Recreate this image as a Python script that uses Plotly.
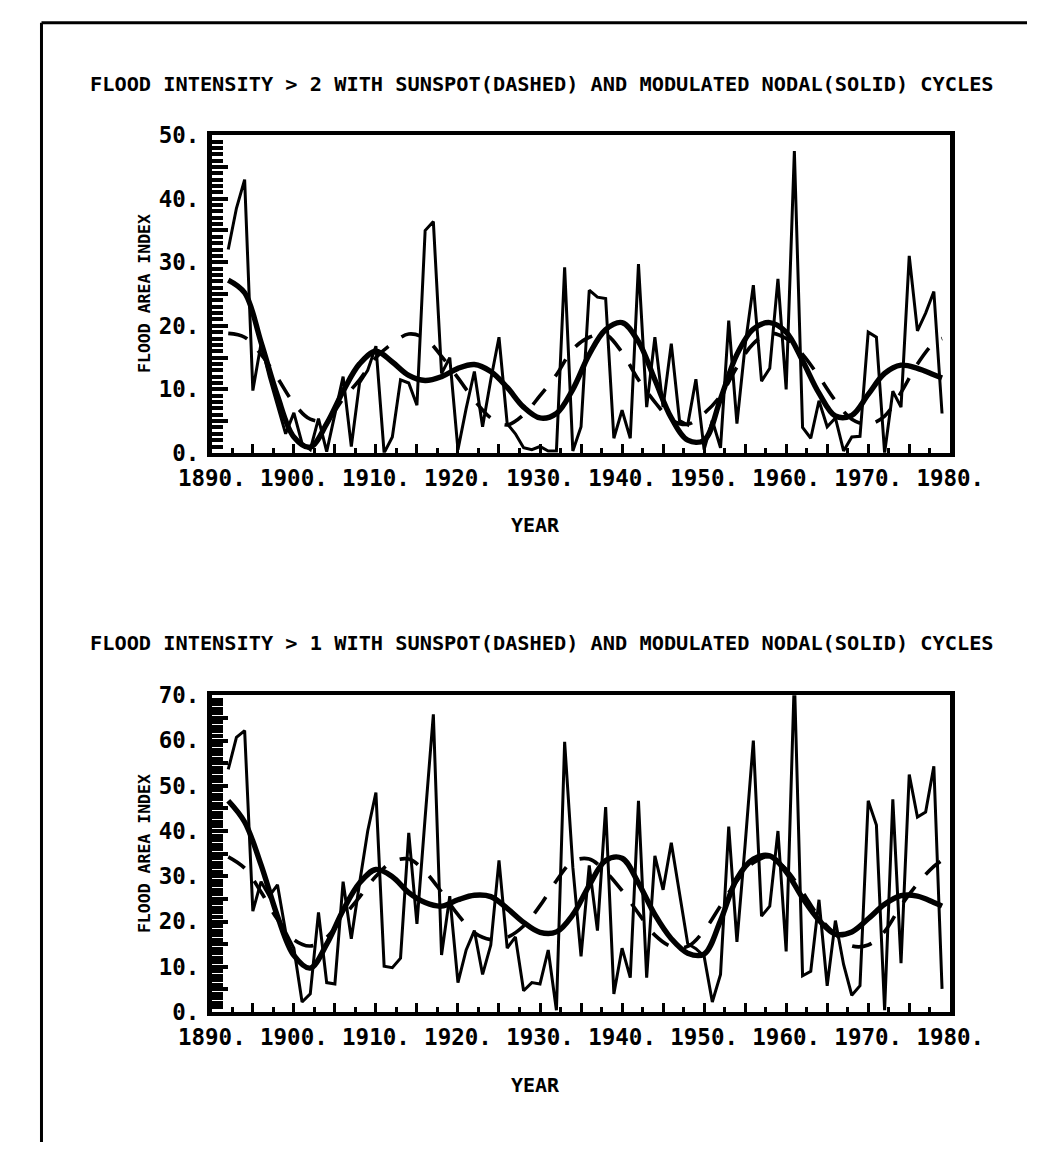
import plotly.graph_objects as go

# ---------------- data ----------------
years = list(range(1892, 1980))

flood_gt2 = [32, 38.5, 43, 9.8, 17.2, 12, 7.5, 3, 6.3, 1.5,
             0.5, 5.4, 0.2, 6, 12, 1, 11, 13, 16.8, 0,
             2.5, 11.5, 11, 7.5, 35, 36.4, 12.5, 15, 0.5, 7,
             12.8, 4.1, 11.5, 18.2, 4.6, 3, 0.8, 0.5, 1, 0.3,
             0.3, 29.2, 0.3, 4.1, 25.6, 24.5, 24.3, 2.3, 6.7, 2.3,
             29.7, 7.2, 18.2, 7.2, 17.2, 5.1, 4.4, 11.6, 0.5, 5.1,
             0.8, 20.8, 4.6, 16.9, 26.4, 11.3, 13.3, 27.4, 10, 47.5,
             4, 2.3, 8.2, 4.1, 5.5, 0.3, 2.5, 2.6, 19, 18.2,
             0, 9.7, 7.2, 31, 19.2, 22, 25.4, 6.2]

flood_gt1 = [53.6, 60.7, 62.2, 22.3, 28.8, 25.6, 28.1, 17.7, 14.1, 2.2,
             4, 22, 6.5, 6.2, 28.8, 16.2, 28.4, 40, 48.5, 10.1,
             9.8, 11.9, 39.6, 19.5, 43, 65.8, 12.6, 25.6, 6.5, 13.7,
             18, 8.3, 14.8, 33.5, 14.1, 16.6, 4.7, 6.5, 6.2, 13.7,
             0.4, 59.7, 32, 12.3, 32.4, 18, 45.3, 4, 14.1, 7.6,
             46.7, 7.6, 34.5, 27, 37.4, 26, 15.1, 14, 12.3, 2.2,
             8.3, 41, 15.5, 37, 60, 21.2, 23.4, 40, 13.4, 74,
             8, 9, 24.8, 5.8, 20.2, 10.5, 3.7, 5.8, 46.7, 41.3,
             0.4, 47, 10.8, 52.5, 43.1, 44.2, 54.3, 5.1]

cycle_years = [1892, 1894, 1896, 1898, 1900, 1902, 1904, 1906, 1908, 1910,
               1912, 1914, 1916, 1918, 1920, 1922, 1924, 1926, 1928, 1930,
               1932, 1934, 1936, 1938, 1940, 1942, 1944, 1946, 1948, 1950,
               1952, 1954, 1956, 1958, 1960, 1962, 1964, 1966, 1968, 1970,
               1972, 1974, 1976, 1978, 1979]

sunspot_gt2 = [18.8, 18.2, 15.5, 11.8, 7.8, 5.3, 5.2, 8.5, 11.5, 15,
               17.2, 18.7, 18, 15.2, 11.8, 8.3, 5.5, 4.4, 6, 9,
               12.3, 16.3, 18.2, 18.6, 15.8, 11.5, 8, 5.2, 4.5, 6.2,
               9, 13.5, 17.2, 18.8, 18, 15.5, 12, 8.2, 5.3, 4.5,
               5.8, 9.5, 14, 17.3, 18]

nodal_gt2 = [27.2, 25.2, 17.4, 9, 2.5, 0.9, 4.6, 9.7, 14, 16,
             14.3, 12.2, 11.4, 12, 13.3, 13.9, 12.8, 10.3, 7.2, 5.5,
             6.2, 10, 15.5, 19.4, 20.5, 17.5, 11.5, 5.5, 2, 2,
             8.5, 15.5, 19.5, 20.5, 19, 14.5, 9.4, 5.8, 5.9, 9.2,
             12.5, 13.8, 13.3, 12.3, 11.8]

sunspot_gt1 = [34.3, 31.8, 26.5, 20.5, 16, 14.6, 16.5, 21, 25.4, 30,
               33.2, 33.8, 31, 26.5, 21.5, 17.5, 16, 16.5, 19, 23.5,
               29, 33.3, 33.8, 31, 26.8, 21.8, 17, 14.5, 14.5, 18,
               23.5, 29, 33, 34.3, 31.5, 26.5, 21, 17.2, 14.6, 14.8,
               17.8, 23.5, 28.3, 32.2, 33.5]

nodal_gt1 = [46.7, 42, 32.5, 21.2, 12.5, 9.7, 15, 22.5, 28.5, 31.5,
             29.9, 26.4, 24.2, 23.4, 24.8, 25.8, 25.5, 22.9, 19.8, 17.6,
             17.7, 21.5, 28, 33.5, 34, 28.5, 21.5, 16.2, 13, 12.8,
             20.2, 29.5, 33.8, 34.5, 31, 25.2, 20.3, 17.2, 17.7, 20.6,
             23.8, 25.7, 25.6, 24.2, 23.4]

x_tick_vals = [1890, 1895, 1900, 1905, 1910, 1915, 1920, 1925, 1930, 1935,
               1940, 1945, 1950, 1955, 1960, 1965, 1970, 1975, 1980]
x_tick_text = ["1890.", "", "1900.", "", "1910.", "", "1920.", "", "1930.", "",
               "1940.", "", "1950.", "", "1960.", "", "1970.", "", "1980."]

y1_tick_vals = [0, 5, 10, 15, 20, 25, 30, 35, 40, 45, 50]
y1_tick_text = ["0.", "", "10.", "", "20.", "", "30.", "", "40.", "", "50."]
y2_tick_vals = [0, 5, 10, 15, 20, 25, 30, 35, 40, 45, 50, 55, 60, 65, 70]
y2_tick_text = ["0.", "", "10.", "", "20.", "", "30.", "", "40.", "", "50.", "",
                "60.", "", "70."]

title_top = "FLOOD INTENSITY > 2 WITH SUNSPOT(DASHED) AND MODULATED NODAL(SOLID) CYCLES"
title_bot = "FLOOD INTENSITY > 1 WITH SUNSPOT(DASHED) AND MODULATED NODAL(SOLID) CYCLES"
x_title = "YEAR"
y_title = "FLOOD AREA INDEX"

# ---------------- layout constants ----------------
W, H = 1061, 1155
FONT = "DejaVu Sans Mono"
BLACK = "#000000"


def px(x):
    return x / W


def py(y):
    return 1 - y / H


top_dom = [py(450), py(125)]
bot_dom = [py(1022), py(698)]
x_dom = [px(190), px(979)]

fig = go.Figure()


def add_panel(xa, ya, raw, spot, nodal):
    fig.add_trace(go.Scatter(x=years, y=raw, mode="lines", xaxis=xa, yaxis=ya,
                             line=dict(color=BLACK, width=3.0), showlegend=False,
                             hoverinfo="skip"))
    fig.add_trace(go.Scatter(x=cycle_years, y=spot, mode="lines", xaxis=xa, yaxis=ya,
                             line=dict(color=BLACK, width=3.6, dash="20px,16px",
                                       shape="spline", smoothing=1.0),
                             showlegend=False, hoverinfo="skip"))
    fig.add_trace(go.Scatter(x=cycle_years, y=nodal, mode="lines", xaxis=xa, yaxis=ya,
                             line=dict(color=BLACK, width=5.4, shape="spline",
                                       smoothing=1.0),
                             showlegend=False, hoverinfo="skip"))


add_panel("x", "y", flood_gt2, sunspot_gt2, nodal_gt2)
add_panel("x2", "y2", flood_gt1, sunspot_gt1, nodal_gt1)

tickfont = dict(family=FONT, size=22.5, color=BLACK, weight="bold")


def xaxis(anchor):
    return dict(domain=x_dom, anchor=anchor, range=[1890, 1980],
                showgrid=False, zeroline=False, fixedrange=True,
                showline=True, linewidth=4, linecolor=BLACK, mirror=True,
                ticks="inside", ticklen=9, tickwidth=3, tickcolor=BLACK,
                tickmode="array", tickvals=x_tick_vals, ticktext=x_tick_text,
                tickfont=tickfont, ticklabelstandoff=2,
                minor=dict(ticks="inside", ticklen=5, tickwidth=3,
                           tickcolor=BLACK, tick0=1890, dtick=2.5, showgrid=False))


def yaxis(anchor, dom, rng, vals, text):
    return dict(domain=dom, anchor=anchor, range=rng,
                showgrid=False, zeroline=False, fixedrange=True,
                showline=True, linewidth=5, linecolor=BLACK, mirror=True,
                ticks="inside", ticklen=16, tickwidth=3.5, tickcolor=BLACK,
                tickmode="array", tickvals=vals, ticktext=text,
                tickfont=tickfont, ticklabelstandoff=3,
                minor=dict(ticks="inside", ticklen=11, tickwidth=4,
                           tickcolor=BLACK, tick0=0, dtick=1, showgrid=False))


lblfont = dict(family=FONT, size=20.3, color=BLACK, weight="bold")
axfont = dict(family=FONT, size=20, color=BLACK, weight="bold")
yfont = dict(family=FONT, size=16.5, color=BLACK, weight="bold")

annotations = [
    dict(text=title_top, x=px(543), y=py(73), xref="paper", yref="paper",
         showarrow=False, font=lblfont, xanchor="center", yanchor="middle"),
    dict(text=title_bot, x=px(543), y=py(644), xref="paper", yref="paper",
         showarrow=False, font=lblfont, xanchor="center", yanchor="middle"),
    dict(text=x_title, x=px(536), y=py(524), xref="paper", yref="paper",
         showarrow=False, font=axfont, xanchor="center", yanchor="middle"),
    dict(text=x_title, x=px(536), y=py(1097), xref="paper", yref="paper",
         showarrow=False, font=axfont, xanchor="center", yanchor="middle"),
    dict(text=y_title, x=px(118), y=py(287), xref="paper", yref="paper",
         showarrow=False, font=yfont, textangle=-90, xanchor="center", yanchor="middle"),
    dict(text=y_title, x=px(118), y=py(860), xref="paper", yref="paper",
         showarrow=False, font=yfont, textangle=-90, xanchor="center", yanchor="middle"),
]

shapes = [
    dict(type="line", xref="paper", yref="paper", x0=px(8), y0=py(10), x1=1, y1=py(10),
         line=dict(color=BLACK, width=3)),
    dict(type="line", xref="paper", yref="paper", x0=px(8), y0=py(10), x1=px(8), y1=0,
         line=dict(color=BLACK, width=3)),
]

fig.update_layout(
    width=W, height=H, margin=dict(l=0, r=0, t=0, b=0),
    paper_bgcolor="white", plot_bgcolor="white",
    xaxis=xaxis("y"), yaxis=yaxis("x", top_dom, [0, 50], y1_tick_vals, y1_tick_text),
    xaxis2=xaxis("y2"), yaxis2=yaxis("x2", bot_dom, [0, 70], y2_tick_vals, y2_tick_text),
    annotations=annotations, shapes=shapes, showlegend=False,
)

fig.write_html("out.html", config={"displayModeBar": False})
